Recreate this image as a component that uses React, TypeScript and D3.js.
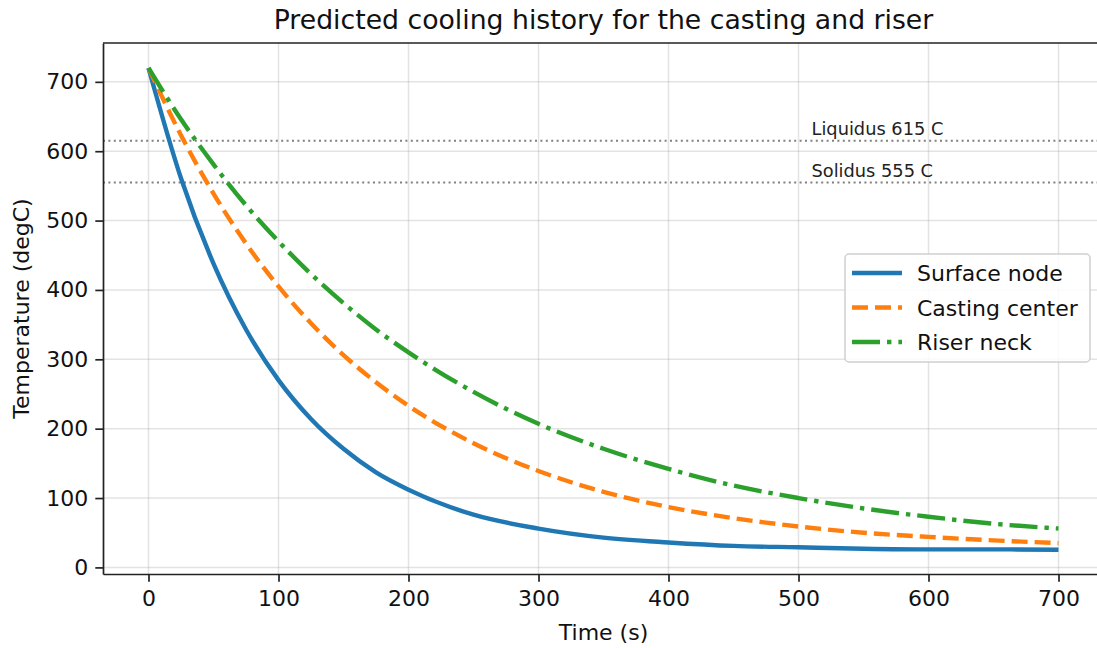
import * as d3 from "d3";
import { useEffect, useRef } from "react";

// ---- data ----
const times = [0, 25, 50, 75, 100, 125, 150, 175, 200, 250, 300, 350, 400, 450, 500, 550, 600, 650, 700];
const surfaceNode = [720, 561, 438, 343, 270, 214, 171, 137, 112, 76, 56, 43, 36, 31, 29, 27, 26, 26, 25.5];
const castingCenter = [720, 623, 539, 467, 405, 352, 306, 267, 233, 179, 139, 109, 87, 71, 59, 50, 44, 39, 35];
const riserNeck = [720, 646, 581, 522, 470, 423, 381, 343, 310, 253, 207, 171, 142, 118, 100, 85, 73, 63, 56];
const seriesNames = ["Surface node", "Casting center", "Riser neck"];
const seriesColors = ["#1f77b4", "#ff7f0e", "#2ca02c"];
const seriesDash = ["none", "16,7", "28,7,4.4,7"];
const xTicks = [0, 100, 200, 300, 400, 500, 600, 700];
const yTicks = [0, 100, 200, 300, 400, 500, 600, 700];
const refLines = [
    { value: 615, label: "Liquidus 615 C" },
    { value: 555, label: "Solidus 555 C" },
];

export default function App() {
    const ref = useRef<SVGSVGElement>(null);

    useEffect(() => {
        const width = 1097;
        const height = 648;
        const margin = { top: 43, right: -7, bottom: 74, left: 103 };
        const innerW = width - margin.left - margin.right;
        const innerH = height - margin.top - margin.bottom;
        const font = "DejaVu Sans, sans-serif";

        const svg = d3.select(ref.current);
        svg.selectAll("*").remove();
        svg.attr("viewBox", `0 0 ${width} ${height}`);

        const x = d3.scaleLinear().domain([-35, 735]).range([0, innerW]);
        const y = d3.scaleLinear().domain([-9.5, 756]).range([innerH, 0]);

        const g = svg.append("g").attr("transform", `translate(${margin.left},${margin.top})`);

        // ---- grid ----
        g.append("g")
            .selectAll("line")
            .data(xTicks)
            .join("line")
            .attr("x1", (d) => x(d))
            .attr("x2", (d) => x(d))
            .attr("y1", 0)
            .attr("y2", innerH)
            .attr("stroke", "#b0b0b0")
            .attr("stroke-opacity", 0.35)
            .attr("stroke-width", 1.5);
        g.append("g")
            .selectAll("line")
            .data(yTicks)
            .join("line")
            .attr("x1", 0)
            .attr("x2", innerW)
            .attr("y1", (d) => y(d))
            .attr("y2", (d) => y(d))
            .attr("stroke", "#b0b0b0")
            .attr("stroke-opacity", 0.35)
            .attr("stroke-width", 1.5);

        // ---- liquidus / solidus ----
        refLines.forEach((r) => {
            g.append("line")
                .attr("x1", 0)
                .attr("x2", innerW)
                .attr("y1", y(r.value))
                .attr("y2", y(r.value))
                .attr("stroke", "#808080")
                .attr("stroke-width", 2)
                .attr("stroke-dasharray", "2,3.4");
            g.append("text")
                .attr("x", x(510))
                .attr("y", y(r.value + 8))
                .attr("font-family", font)
                .attr("font-size", 17.8)
                .attr("fill", "#222")
                .text(r.label);
        });

        // ---- lines ----
        const line = d3
            .line<number>()
            .x((_, i) => x(times[i]))
            .y((d) => y(d))
            .curve(d3.curveMonotoneX);

        [surfaceNode, castingCenter, riserNeck].forEach((vals, k) => {
            g.append("path")
                .datum(vals)
                .attr("d", line)
                .attr("fill", "none")
                .attr("stroke", seriesColors[k])
                .attr("stroke-width", 4.4)
                .attr("stroke-dasharray", seriesDash[k]);
        });

        // ---- axes ----
        const xAxis = g
            .append("g")
            .attr("transform", `translate(0,${innerH})`)
            .call(d3.axisBottom(x).tickValues(xTicks).tickSize(7.7).tickPadding(9).tickSizeOuter(0));
        const yAxis = g.append("g").call(d3.axisLeft(y).tickValues(yTicks).tickSize(7.7).tickPadding(7).tickSizeOuter(0));
        [xAxis, yAxis].forEach((a) => {
            a.selectAll("text").attr("font-family", font).attr("font-size", 22).attr("fill", "#111");
            a.selectAll("line").attr("stroke", "#222").attr("stroke-width", 1.7);
            a.select(".domain").attr("stroke", "#222").attr("stroke-width", 1.7);
        });
        // top & right spines
        g.append("line")
            .attr("x1", 0)
            .attr("x2", innerW)
            .attr("y1", 0)
            .attr("y2", 0)
            .attr("stroke", "#222")
            .attr("stroke-width", 1.7);
        g.append("line")
            .attr("x1", innerW)
            .attr("x2", innerW)
            .attr("y1", 0)
            .attr("y2", innerH)
            .attr("stroke", "#222")
            .attr("stroke-width", 1.7);

        // ---- labels ----
        svg.append("text")
            .attr("x", margin.left + innerW / 2)
            .attr("y", 29)
            .attr("text-anchor", "middle")
            .attr("font-family", font)
            .attr("font-size", 26.7)
            .attr("fill", "#111")
            .text("Predicted cooling history for the casting and riser");
        svg.append("text")
            .attr("x", margin.left + innerW / 2)
            .attr("y", 640)
            .attr("text-anchor", "middle")
            .attr("font-family", font)
            .attr("font-size", 22)
            .attr("fill", "#111")
            .text("Time (s)");
        svg.append("text")
            .attr("transform", `translate(29,${margin.top + innerH / 2}) rotate(-90)`)
            .attr("text-anchor", "middle")
            .attr("font-family", font)
            .attr("font-size", 22)
            .attr("fill", "#111")
            .text("Temperature (degC)");

        // ---- legend ----
        const lg = svg.append("g").attr("transform", "translate(845,254)");
        lg.append("rect")
            .attr("width", 245)
            .attr("height", 108)
            .attr("rx", 4)
            .attr("fill", "white")
            .attr("fill-opacity", 0.85)
            .attr("stroke", "#d0d0d0")
            .attr("stroke-width", 1.5);
        seriesNames.forEach((name, k) => {
            const cy = 19 + k * 34.5;
            lg.append("line")
                .attr("x1", 7)
                .attr("x2", 57)
                .attr("y1", cy)
                .attr("y2", cy)
                .attr("stroke", seriesColors[k])
                .attr("stroke-width", 4.4)
                .attr("stroke-dasharray", seriesDash[k]);
            lg.append("text")
                .attr("x", 72)
                .attr("y", cy + 8)
                .attr("font-family", font)
                .attr("font-size", 22)
                .attr("fill", "#111")
                .text(name);
        });
    }, []);

    return (
        <svg
            ref={ref}
            width={1097}
            height={648}
            style={{ position: "absolute", left: 0, top: 0, background: "white" }}
        />
    );
}
